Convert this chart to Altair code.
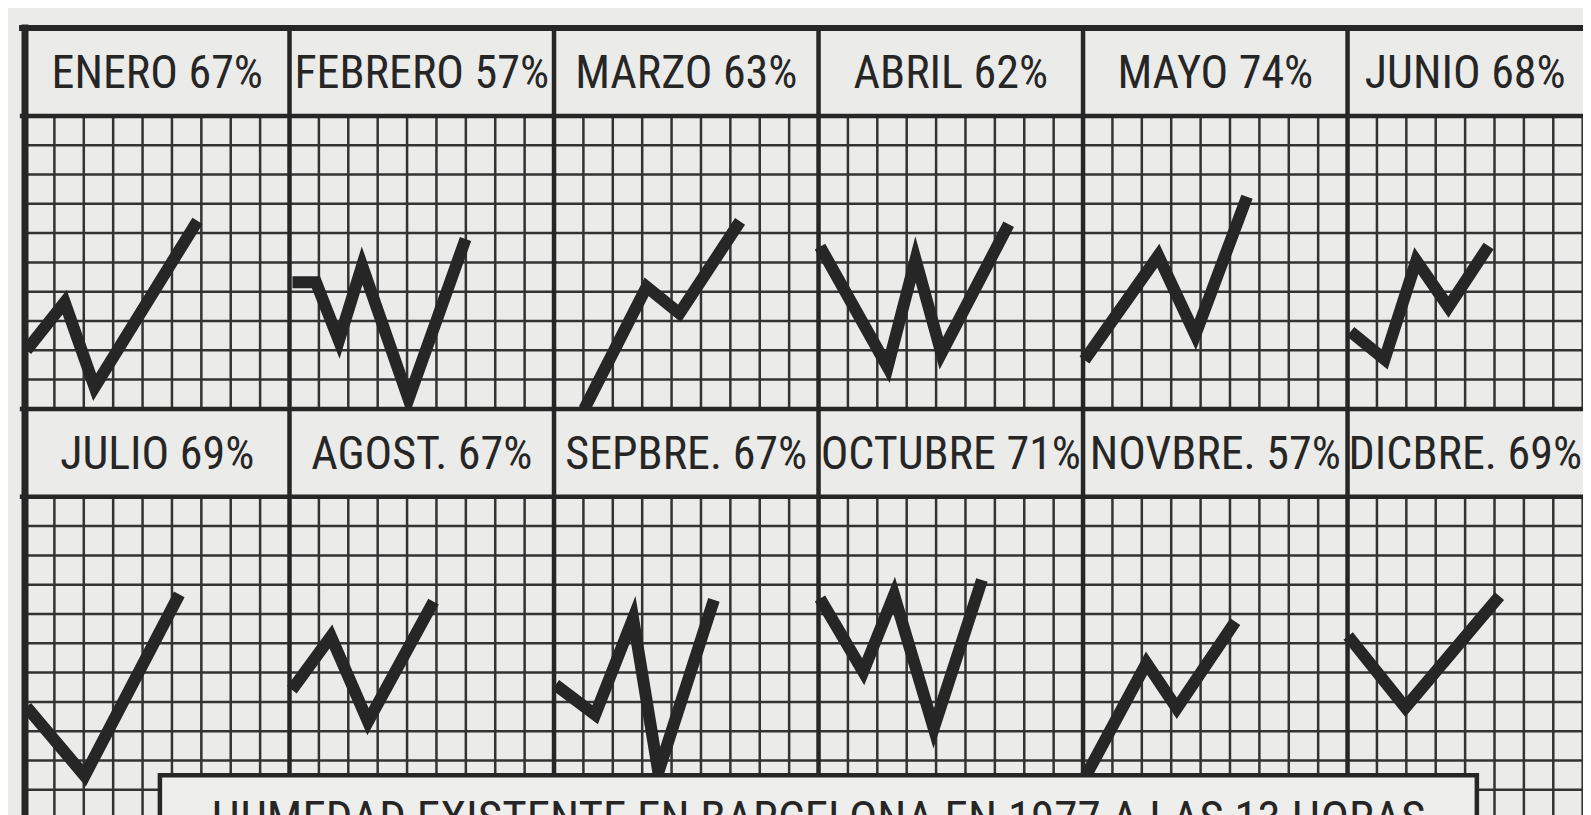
import altair as alt
import pandas as pd

# ---- data -----------------------------------------------------------------
meses = ["ENERO", "FEBRERO", "MARZO", "ABRIL", "MAYO", "JUNIO",
         "JULIO", "AGOST.", "SEPBRE.", "OCTUBRE", "NOVBRE.", "DICBRE."]
porcentajes = [67, 57, 63, 62, 74, 68, 69, 67, 67, 71, 57, 69]
titulo = "HUMEDAD EXISTENTE EN BARCELONA EN 1977 A LAS 13 HORAS"

# position along each panel (grid columns from the panel's left edge)
# and level (grid rows above the panel's bottom edge)
enero_x = [0.05, 1.35, 2.37, 5.87]
enero_y = [2.00, 3.64, 0.74, 6.42]
febrero_x = [0.10, 0.90, 1.68, 2.47, 4.05, 5.99]
febrero_y = [4.32, 4.32, 2.33, 4.89, 0.34, 5.80]
marzo_x = [1.03, 3.15, 4.27, 6.33]
marzo_y = [0.00, 4.17, 3.26, 6.40]
abril_x = [0.05, 2.35, 3.30, 4.18, 6.47]
abril_y = [5.54, 1.43, 5.10, 1.90, 6.30]
mayo_x = [0.05, 2.56, 3.82, 5.58]
mayo_y = [1.67, 5.23, 2.53, 7.24]
junio_x = [0.10, 1.26, 2.34, 3.43, 4.80]
junio_y = [2.64, 1.69, 5.06, 3.48, 5.56]
julio_x = [0.05, 2.03, 5.25]
julio_y = [2.83, 0.48, 6.67]
agosto_x = [0.08, 1.41, 2.67, 4.90]
agosto_y = [3.41, 5.23, 2.33, 6.42]
septiembre_x = [0.05, 1.40, 2.69, 3.55, 5.44]
septiembre_y = [3.58, 2.56, 5.85, 0.60, 6.48]
octubre_x = [0.05, 1.52, 2.57, 3.92, 5.56]
octubre_y = [6.53, 4.03, 6.65, 2.10, 7.16]
noviembre_x = [0.00, 2.16, 3.19, 5.18]
noviembre_y = [0.30, 4.32, 2.78, 5.74]
diciembre_x = [0.02, 1.97, 5.17]
diciembre_y = [5.25, 2.81, 6.61]

series_x = [enero_x, febrero_x, marzo_x, abril_x, mayo_x, junio_x,
            julio_x, agosto_x, septiembre_x, octubre_x, noviembre_x, diciembre_x]
series_y = [enero_y, febrero_y, marzo_y, abril_y, mayo_y, junio_y,
            julio_y, agosto_y, septiembre_y, octubre_y, noviembre_y, diciembre_y]

# ---- layout in grid units ----------------------------------------------------
COLS = 9          # grid columns per panel
ROWS = 10         # grid rows per panel
HEAD = 3          # header height in grid rows
NPAN = 6
row_top = [0, HEAD + ROWS]
row_bottom = [HEAD + ROWS, 2 * (HEAD + ROWS)]

W, H = 1575, 850
UX, UY = 29.39, 29.3
X0 = (8 - 25) / UX
X1 = X0 + W / UX
Y0 = (8 - 28) / UY
Y1 = Y0 + H / UY

INK = "#262626"
PAPER = "#ebebe9"
FONT = ("Noto Sans ExtraCondensed, Noto Sans Condensed, Roboto Condensed, "
        "Liberation Sans Narrow, DejaVu Sans Condensed, sans-serif")

xs = alt.Scale(domain=[X0, X1], nice=False, zero=False)
ys = alt.Scale(domain=[Y0, Y1], nice=False, zero=False, reverse=True)

rows = []
for m, (sx, sy) in enumerate(zip(series_x, series_y)):
    c, r = m % NPAN, m // NPAN
    for i, (a, b) in enumerate(zip(sx, sy)):
        rows.append({"mes": meses[m], "orden": i,
                     "u": c * COLS + a, "v": row_bottom[r] - b})
lineas = pd.DataFrame(rows)

cab = pd.DataFrame({
    "texto": [f"{n} {p}%" for n, p in zip(meses, porcentajes)],
    "x": [(m % NPAN) * COLS for m in range(12)],
    "x2": [(m % NPAN) * COLS + COLS for m in range(12)],
    "y": [row_top[m // NPAN] for m in range(12)],
    "y2": [row_top[m // NPAN] + HEAD for m in range(12)],
})
# label centred on the visible part of its header box
cab["xc"] = (cab["x"] + cab["x2"].clip(upper=X1)) / 2
cab["yc"] = (cab["y"] + cab["y2"]) / 2

bottom2 = 30
g = []
for u in range(0, NPAN * COLS + 1):
    if u % COLS == 0:
        continue
    g.append({"x": u, "x2": u, "y": HEAD, "y2": HEAD + ROWS})
    g.append({"x": u, "x2": u, "y": 2 * HEAD + ROWS, "y2": bottom2})
for yy in list(range(HEAD + 1, HEAD + ROWS)) + list(range(2 * HEAD + ROWS + 1, bottom2)):
    g.append({"x": 0, "x2": NPAN * COLS, "y": yy, "y2": yy})
grid = pd.DataFrame(g)

b = []
for p in range(NPAN + 1):
    b.append({"x": p * COLS, "x2": p * COLS, "y": 0, "y2": bottom2, "w": 7 if p == 0 else 4.5})
for yy, w in [(0, 6), (HEAD, 4.5), (HEAD + ROWS, 4.5), (2 * HEAD + ROWS, 4.5)]:
    b.append({"x": -0.1, "x2": NPAN * COLS, "y": yy, "y2": yy, "w": w})
bordes = pd.DataFrame(b)

caja = pd.DataFrame({"x": [4.59], "x2": [49.4], "y": [25.5], "y2": [bottom2],
                     "t": [titulo], "xc": [(4.59 + 49.4) / 2], "yt": [27.5]})

X = lambda f: alt.X(f, type="quantitative", scale=xs, axis=None)
Y = lambda f: alt.Y(f, type="quantitative", scale=ys, axis=None)

grid_layer = alt.Chart(grid).mark_rule(color="#333333", strokeWidth=2.5).encode(
    x=X("x"), x2="x2", y=Y("y"), y2="y2")

line_layer = alt.Chart(lineas).mark_line(
    color=INK, strokeWidth=12, strokeJoin="miter", strokeCap="butt", strokeMiterLimit=20
).encode(x=X("u"), y=Y("v"), detail="mes:N", order="orden:Q")

head_layer = alt.Chart(cab).mark_rect(fill=PAPER).encode(
    x=X("x"), x2="x2", y=Y("y"), y2="y2")

border_layer = alt.Chart(bordes).mark_rule(color=INK, strokeCap="square").encode(
    x=X("x"), x2="x2", y=Y("y"), y2="y2",
    strokeWidth=alt.StrokeWidth("w:Q", scale=None))

box_layer = alt.Chart(caja).mark_rect(fill="#eeeeec", stroke=INK, strokeWidth=4.5).encode(
    x=X("x"), x2="x2", y=Y("y"), y2="y2")

head_text = alt.Chart(cab).mark_text(
    font=FONT, fontSize=46, color=INK, baseline="middle", align="center", dy=2
).encode(x=X("xc"), y=Y("yc"), text="texto:N")

title_text = alt.Chart(caja).mark_text(
    font=FONT, fontSize=47, color=INK, baseline="alphabetic", align="center"
).encode(x=X("xc"), y=Y("yt"), text="t:N")

chart = alt.layer(
    grid_layer, line_layer, head_layer, border_layer, box_layer, head_text, title_text
).properties(
    width=W, height=H, background=PAPER, padding=0,
    autosize=alt.AutoSizeParams(type="none")
).configure_view(strokeWidth=0)

chart.save("out.html", embed_options={"renderer": "svg", "actions": False})
